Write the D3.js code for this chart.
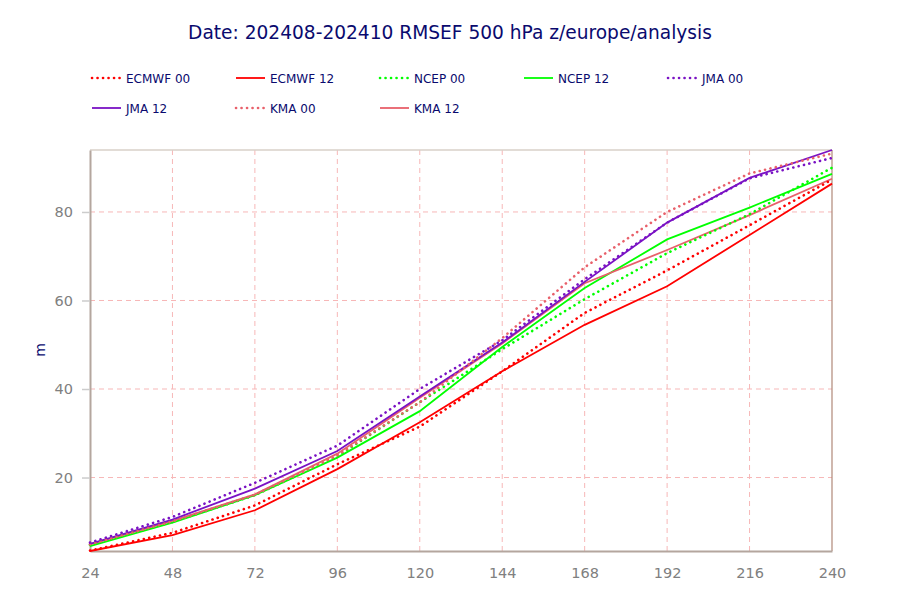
<!DOCTYPE html>
<html><head><meta charset="utf-8">
<script src="https://cdn.jsdelivr.net/npm/d3@7"></script>
<style>body{margin:0;background:#fff;} svg{display:block;}</style>
</head><body>
<svg id="c" width="900" height="600"></svg>
<script>
const steps = [24, 48, 72, 96, 120, 144, 168, 192, 216, 240];
const yTicks = [20, 40, 60, 80];
const seriesNames = ["ECMWF 00", "ECMWF 12", "NCEP 00", "NCEP 12", "JMA 00", "JMA 12", "KMA 00", "KMA 12"];
const ecmwf00 = [3.5, 7.5, 13.7, 23.0, 31.5, 44.0, 57.2, 66.8, 77.0, 87.3];
const ecmwf12 = [3.4, 7.0, 12.6, 21.9, 32.5, 44.0, 54.5, 63.2, 74.8, 86.4];
const ncep00  = [4.8, 10.0, 16.0, 24.8, 37.0, 49.0, 60.3, 70.7, 79.5, 90.0];
const ncep12  = [4.5, 9.8, 16.0, 24.5, 35.0, 49.5, 62.8, 73.8, 81.0, 88.6];
const jma00   = [5.3, 11.1, 18.8, 27.2, 40.0, 51.0, 64.8, 77.6, 87.6, 92.2];
const jma12   = [5.0, 10.5, 17.5, 26.0, 38.3, 50.5, 64.2, 77.6, 87.7, 94.0];
const kma00   = [4.9, 10.1, 16.1, 25.0, 37.0, 51.5, 67.5, 80.0, 88.7, 93.2];
const kma12   = [4.9, 10.2, 16.2, 25.4, 38.0, 50.3, 63.9, 71.4, 79.3, 87.5];
const seriesValues = [ecmwf00, ecmwf12, ncep00, ncep12, jma00, jma12, kma00, kma12];
const seriesColors = ["#ff0000", "#ff0000", "#00ff00", "#00ff00", "#7a12c4", "#7a12c4", "#e8606a", "#e8606a"];
const seriesDotted = [true, false, true, false, true, false, true, false];
const title = "Date: 202408-202410 RMSEF 500 hPa z/europe/analysis";
const yLabel = "m";

const svg = d3.select("#c");
const m = {l: 90, r: 832, t: 150, b: 551};
const x = d3.scaleLinear().domain(d3.extent(steps)).range([m.l, m.r]);
const allVals = seriesValues.flat();
const y = d3.scaleLinear().domain(d3.extent(allVals)).range([m.b, m.t]);
const navy = "#0a0a6e";
const font = "DejaVu Sans, sans-serif";

// title
svg.append("text").attr("x", 450).attr("y", 39).attr("text-anchor", "middle")
  .attr("font-family", font).attr("font-size", 18.6).attr("fill", navy).text(title);

// grid
const grid = svg.append("g");
grid.selectAll("line.v").data(steps.slice(1, -1)).join("line")
  .attr("x1", d => x(d)).attr("x2", d => x(d)).attr("y1", m.t).attr("y2", m.b)
  .attr("stroke", "#f7b7b7").attr("stroke-width", 1).attr("stroke-dasharray", "5,4");
grid.selectAll("line.h").data(yTicks).join("line")
  .attr("x1", m.l).attr("x2", m.r).attr("y1", d => y(d)).attr("y2", d => y(d))
  .attr("stroke", "#f7b7b7").attr("stroke-width", 1).attr("stroke-dasharray", "5,4");

// frame
svg.append("line").attr("x1", m.l).attr("x2", m.r).attr("y1", m.t).attr("y2", m.t).attr("stroke", "#d9d0c9").attr("stroke-width", 1.5);
svg.append("line").attr("x1", m.r).attr("x2", m.r).attr("y1", m.t).attr("y2", m.b).attr("stroke", "#b08878").attr("stroke-width", 1.2);

// axes
const xAxis = d3.axisBottom(x).tickValues(steps).tickSize(0).tickPadding(17);
const gx = svg.append("g").attr("transform", `translate(0,${m.b})`).call(xAxis);
gx.select(".domain").attr("stroke", "#b4a69e").attr("stroke-width", 2);
gx.selectAll("text").attr("font-family", font).attr("font-size", 14.5).attr("fill", "#808080");

const yAxis = d3.axisLeft(y).tickValues(yTicks).tickSizeInner(8).tickSizeOuter(0).tickPadding(9);
const gy = svg.append("g").attr("transform", `translate(${m.l},0)`).call(yAxis);
gy.select(".domain").attr("stroke", "#b4a69e").attr("stroke-width", 2);
gy.selectAll(".tick line").attr("stroke", "#cccccc").attr("stroke-width", 1.5);
gy.selectAll("text").attr("font-family", font).attr("font-size", 14.5).attr("fill", "#808080");

svg.append("text").attr("transform", "translate(45,350) rotate(-90)").attr("text-anchor", "middle")
  .attr("font-family", font).attr("font-size", 14).attr("fill", navy).text(yLabel);

// lines
const line = d3.line().x((d, i) => x(steps[i])).y(d => y(d));
const order = [1, 3, 7, 5, 0, 2, 6, 4];
svg.append("g").selectAll("path").data(order).join("path")
  .attr("d", i => line(seriesValues[i]))
  .attr("fill", "none").attr("stroke", i => seriesColors[i])
  .attr("stroke-width", i => seriesDotted[i] ? 2.6 : 1.8)
  .attr("stroke-dasharray", i => seriesDotted[i] ? "0.1,5.4" : null)
  .attr("stroke-linecap", i => seriesDotted[i] ? "round" : "butt");

// legend
const lg = svg.append("g");
seriesNames.forEach((name, i) => {
  const col = i % 5, row = Math.floor(i / 5);
  const lx = 92 + col * 144, ly = 78 + row * 30;
  lg.append("line").attr("x1", lx).attr("x2", lx + 29).attr("y1", ly).attr("y2", ly)
    .attr("stroke", seriesColors[i]).attr("stroke-width", seriesDotted[i] ? 2.6 : 1.8)
    .attr("stroke-dasharray", seriesDotted[i] ? "0.1,5.4" : null)
    .attr("stroke-linecap", seriesDotted[i] ? "round" : "butt");
  lg.append("text").attr("x", lx + 34).attr("y", ly + 4.5).attr("font-family", font)
    .attr("font-size", 12).attr("fill", navy).text(name);
});
</script>
</body></html>
